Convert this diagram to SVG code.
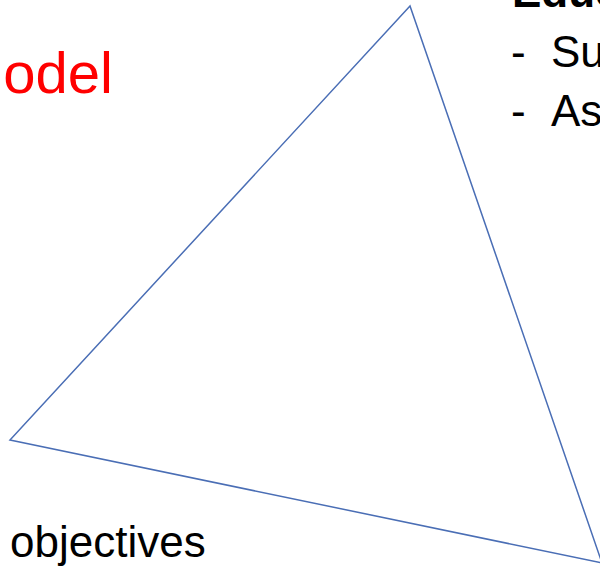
<svg xmlns="http://www.w3.org/2000/svg" width="600" height="566" viewBox="0 0 600 566">
  <style>
    .t { font-family: "Liberation Sans", Arial, sans-serif; font-size: 44px; fill: #000; }
    .b { font-weight: bold; }
    .red { font-family: "Liberation Sans", Arial, sans-serif; font-size: 58px; fill: #FF0000; }
    .tri { fill: none; stroke: #4A6EB5; stroke-width: 1.5; stroke-linejoin: miter; }
  </style>
  <rect width="600" height="566" fill="#ffffff"/>
  <g id="triangle">
    <polygon class="tri" points="410,6 10,440 602,563"/>
  </g>
  <g id="title">
    <text class="red" x="-45" y="93">model</text>
  </g>
  <g id="education">
    <text class="t b" x="512" y="7">Educ</text>
    <text class="t" x="511" y="67">-</text>
    <text class="t" x="551" y="67">Su</text>
    <text class="t" x="511" y="126">-</text>
    <text class="t" x="551" y="126">Ass</text>
  </g>
  <g id="objectives">
    <text class="t" x="10" y="557">objectives</text>
  </g>
</svg>
